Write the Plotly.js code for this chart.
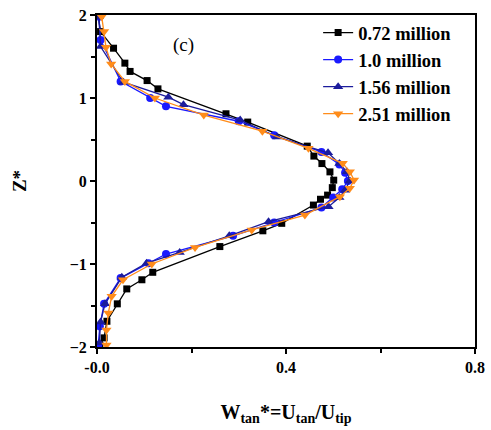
<!DOCTYPE html>
<html>
<head>
<meta charset="utf-8">
<script src="https://cdn.plot.ly/plotly-3.0.1.min.js"></script>
<style>html,body{margin:0;padding:0;background:#fff}#chart{width:491px;height:430px}</style>
</head>
<body>
<div id="chart"></div>
<script>
// Series names
const seriesNames = ["0.72 million", "1.0 million", "1.56 million", "2.51 million"];

// 0.72 million (black squares)
const s072_x = [0.0025, 0.0075, 0.035, 0.059, 0.070, 0.106, 0.129, 0.273, 0.319, 0.445, 0.459, 0.476, 0.493, 0.501, 0.498, 0.488, 0.473, 0.458, 0.391, 0.351, 0.260, 0.118, 0.095, 0.063, 0.043, 0.021, 0.015, 0.006];
const s072_z = [1.99, 1.80, 1.60, 1.42, 1.32, 1.21, 1.11, 0.81, 0.71, 0.42, 0.30, 0.21, 0.11, 0.01, -0.08, -0.17, -0.22, -0.29, -0.51, -0.60, -0.79, -1.10, -1.19, -1.30, -1.48, -1.69, -1.89, -1.98];

// 1.0 million (blue circles)
const s100_x = [0.004, 0.0075, 0.050, 0.1125, 0.146, 0.300, 0.375, 0.475, 0.513, 0.525, 0.531, 0.519, 0.500, 0.475, 0.375, 0.288, 0.146, 0.109, 0.050, 0.015, 0.006, 0.0025];
const s100_z = [1.98, 1.70, 1.20, 1.00, 0.90, 0.72, 0.55, 0.35, 0.20, 0.10, 0.00, -0.10, -0.20, -0.32, -0.50, -0.66, -0.88, -0.99, -1.17, -1.48, -1.75, -1.98];

// 1.56 million (navy triangles up)
const s156_x = [0.004, 0.0075, 0.056, 0.151, 0.183, 0.303, 0.381, 0.489, 0.513, 0.529, 0.535, 0.525, 0.513, 0.490, 0.363, 0.280, 0.175, 0.105, 0.0525, 0.017, 0.0075, 0.005];
const s156_z = [1.98, 1.62, 1.19, 1.01, 0.92, 0.735, 0.53, 0.34, 0.21, 0.11, 0.00, -0.11, -0.20, -0.31, -0.49, -0.66, -0.86, -0.99, -1.16, -1.48, -1.70, -1.95];

// 2.51 million (orange triangles down)
const s251_x = [0.010, 0.015, 0.019, 0.030, 0.059, 0.1225, 0.226, 0.350, 0.4475, 0.520, 0.535, 0.544, 0.535, 0.514, 0.440, 0.3275, 0.2075, 0.116, 0.055, 0.031, 0.024, 0.020, 0.020];
const s251_z = [1.98, 1.80, 1.61, 1.41, 1.20, 1.00, 0.795, 0.60, 0.394, 0.213, 0.112, 0.012, -0.088, -0.189, -0.41, -0.59, -0.80, -1.00, -1.19, -1.39, -1.59, -1.795, -1.976];

// Axis ticks
const xTickVals = [0, 0.4, 0.8];
const xTickText = ["-0.0", "0.4", "0.8"];
const yTickVals = [-2, -1, 0, 1, 2];

const serif = "Liberation Serif, Times New Roman, serif";

function trace(x, y, name, color, symbol, size) {
  return {
    x: x, y: y, name: "<b>" + name + "</b>", type: "scatter", mode: "lines+markers",
    line: {color: color, width: 1.3},
    marker: {color: color, symbol: symbol, size: size, line: {width: 0}}
  };
}

const data = [
  trace(s072_x, s072_z, seriesNames[0], "#000000", "square", 7),
  trace(s100_x, s100_z, seriesNames[1], "#1a1aff", "circle", 8),
  trace(s156_x, s156_z, seriesNames[2], "#1c1c9c", "triangle-up", 9),
  trace(s251_x, s251_z, seriesNames[3], "#ff8c1a", "triangle-down", 9)
];

const layout = {
  width: 491, height: 430,
  margin: {l: 97, r: 16, t: 15, b: 83},
  paper_bgcolor: "#ffffff", plot_bgcolor: "#ffffff",
  showlegend: true,
  legend: {
    x: 0.585, y: 1.003, xanchor: "left", yanchor: "top",
    bgcolor: "rgba(0,0,0,0)", borderwidth: 0,
    font: {family: serif, size: 18.5, color: "#000"},
    itemwidth: 30, tracegroupgap: 0
  },
  xaxis: {
    range: [0, 0.8], tickvals: xTickVals, ticktext: xTickText,
    showgrid: false, zeroline: false,
    showline: true, linecolor: "#000", linewidth: 2, mirror: true,
    ticks: "outside", ticklen: 5, tickwidth: 2, tickcolor: "#000",
    minor: {dtick: 0.2, tick0: 0, ticks: "outside", ticklen: 4, tickwidth: 2, tickcolor: "#000", showgrid: false},
    tickfont: {family: serif, size: 16, color: "#000", weight: "bold"},
    title: {text: "<b>W<sub>tan</sub>*=U<sub>tan</sub>/U<sub>tip</sub></b>", font: {family: serif, size: 20, color: "#000"}, standoff: 30}
  },
  yaxis: {
    range: [-2, 2], tickvals: yTickVals,
    showgrid: false, zeroline: false,
    showline: true, linecolor: "#000", linewidth: 2, mirror: true,
    ticks: "outside", ticklen: 5, tickwidth: 2, tickcolor: "#000",
    minor: {dtick: 0.5, tick0: 0, ticks: "outside", ticklen: 4, tickwidth: 2, tickcolor: "#000", showgrid: false},
    tickfont: {family: serif, size: 16, color: "#000", weight: "bold"},
    title: {text: "<b>Z*</b>", font: {family: serif, size: 19, color: "#000"}, standoff: 38}
  },
  annotations: [{
    x: 0.184, y: 1.64, xref: "x", yref: "y", text: "(c)", showarrow: false,
    font: {family: serif, size: 19, color: "#000"}
  }]
};

Plotly.newPlot("chart", data, layout, {displayModeBar: false, staticPlot: true});
</script>
</body>
</html>
